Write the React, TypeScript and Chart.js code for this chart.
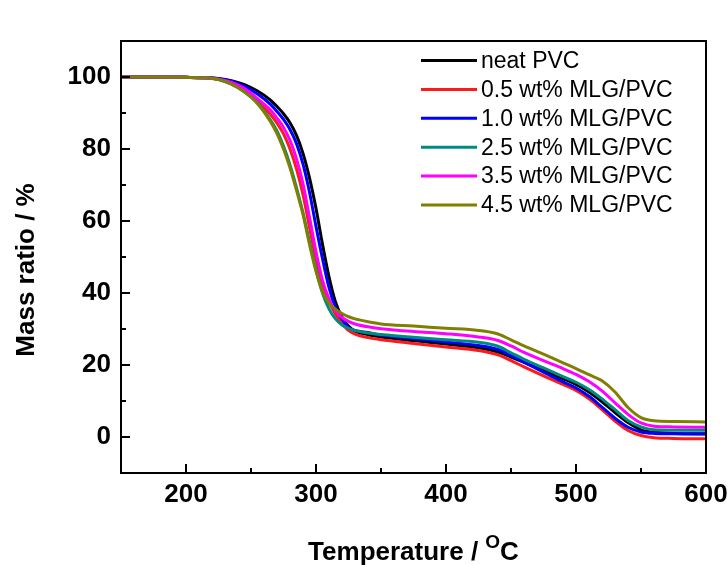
import { useEffect, useRef } from "react";
import { Chart, registerables } from "chart.js";

Chart.register(...registerables);

const temperatures = [150, 200, 215, 225, 235, 245, 255, 265, 270, 275, 280, 285, 290, 295, 300, 305, 310, 315, 320, 325, 330, 340, 350, 375, 400, 425, 440, 450, 460, 475, 490, 500, 510, 520, 530, 540, 550, 560, 575, 600];

const neatPVC = [100, 99.9, 99.8, 99.6, 99.0, 97.9, 96.1, 93.6, 91.8, 89.8, 87.3, 83.8, 78.8, 72.0, 63.5, 53.5, 44.5, 37.5, 33.3, 30.8, 29.4, 28.4, 27.8, 26.8, 25.8, 24.8, 23.6, 22.2, 20.7, 18.5, 16.2, 14.6, 12.5, 9.8, 6.8, 4.0, 2.0, 1.3, 1.0, 0.9];
const mlg05 = [100, 99.9, 99.8, 99.4, 98.3, 96.3, 93.3, 89.6, 87.2, 84.2, 80.0, 74.5, 67.3, 58.3, 49.5, 42.3, 37.6, 34.2, 31.6, 29.6, 28.6, 27.6, 27.0, 26.0, 25.0, 24.0, 22.8, 21.2, 19.5, 17.0, 14.6, 12.9, 10.6, 7.6, 4.4, 1.8, 0.4, -0.2, -0.4, -0.5];
const mlg10 = [100, 99.9, 99.8, 99.5, 98.8, 97.4, 95.3, 92.4, 90.4, 88.2, 85.4, 81.5, 75.8, 68.0, 58.5, 49.5, 41.5, 36.0, 32.8, 30.4, 29.6, 29.0, 28.3, 27.3, 26.4, 25.4, 24.3, 22.6, 20.8, 18.0, 15.3, 13.6, 11.3, 8.3, 5.2, 2.7, 1.4, 1.0, 0.9, 0.8];
const mlg25 = [100, 99.9, 99.8, 99.3, 98.0, 95.9, 92.8, 88.0, 85.0, 80.8, 75.6, 69.3, 62.3, 54.3, 46.5, 40.0, 35.6, 32.8, 31.1, 30.2, 29.6, 28.9, 28.5, 27.7, 27.0, 26.3, 25.2, 23.4, 21.6, 19.2, 16.8, 15.2, 13.2, 10.6, 7.6, 4.6, 2.8, 2.0, 1.9, 1.9];
const mlg35 = [100, 99.9, 99.8, 99.4, 98.5, 96.8, 94.0, 90.8, 88.6, 86.0, 82.4, 77.3, 70.3, 61.0, 51.5, 43.5, 38.4, 35.0, 33.2, 32.1, 31.4, 30.6, 30.1, 29.3, 28.7, 27.8, 26.8, 25.3, 23.5, 21.2, 19.0, 17.4, 15.4, 12.8, 9.5, 6.3, 3.9, 3.0, 2.8, 2.7];
const mlg45 = [100, 99.9, 99.8, 99.3, 98.0, 95.8, 92.6, 87.6, 84.3, 80.0, 74.8, 68.5, 61.8, 53.5, 46.0, 40.3, 37.2, 35.5, 34.3, 33.4, 32.8, 32.0, 31.4, 30.8, 30.2, 29.6, 28.6, 27.0, 25.3, 23.0, 20.6, 19.0, 17.3, 15.6, 12.5, 8.2, 5.4, 4.5, 4.3, 4.2];

const seriesLabels = ["neat PVC", "0.5 wt% MLG/PVC", "1.0 wt% MLG/PVC", "2.5 wt% MLG/PVC", "3.5 wt% MLG/PVC", "4.5 wt% MLG/PVC"];
const seriesValues = [neatPVC, mlg05, mlg10, mlg25, mlg35, mlg45];
const seriesColors = ["#000000", "#ff1a1a", "#0000ff", "#008b80", "#ff00ff", "#7f7f00"];

const xMajorTicks = [200, 300, 400, 500, 600];
const xMinorTicks = [250, 350, 450, 550];
const yMajorTicks = [0, 20, 40, 60, 80, 100];
const yMinorTicks = [10, 30, 50, 70, 90];

const FONT = "'Liberation Sans', Arial, Helvetica, sans-serif";

const framePlugin = {
  id: "frame",
  afterDraw(chart: any) {
    const { ctx, chartArea: a, scales } = chart;
    const xs = scales.x;
    const ys = scales.y;
    ctx.save();
    ctx.strokeStyle = "#000";
    ctx.lineWidth = 2;
    ctx.strokeRect(a.left, a.top, a.right - a.left, a.bottom - a.top);
    ctx.beginPath();
    xMajorTicks.forEach((v) => {
      const p = xs.getPixelForValue(v);
      ctx.moveTo(p, a.bottom);
      ctx.lineTo(p, a.bottom - 9);
    });
    xMinorTicks.forEach((v) => {
      const p = xs.getPixelForValue(v);
      ctx.moveTo(p, a.bottom);
      ctx.lineTo(p, a.bottom - 5);
    });
    yMajorTicks.forEach((v) => {
      const p = ys.getPixelForValue(v);
      ctx.moveTo(a.left, p);
      ctx.lineTo(a.left + 9, p);
    });
    yMinorTicks.forEach((v) => {
      const p = ys.getPixelForValue(v);
      ctx.moveTo(a.left, p);
      ctx.lineTo(a.left + 5, p);
    });
    ctx.stroke();

    // legend
    const lx = a.left + 300;
    const ly = a.top + 19.5;
    const step = 28.9;
    ctx.font = `23px ${FONT}`;
    ctx.textAlign = "left";
    ctx.textBaseline = "middle";
    seriesLabels.forEach((label, i) => {
      const yy = ly + i * step;
      ctx.strokeStyle = seriesColors[i];
      ctx.lineWidth = 3;
      ctx.beginPath();
      ctx.moveTo(lx, yy);
      ctx.lineTo(lx + 56, yy);
      ctx.stroke();
      ctx.fillStyle = "#000";
      ctx.fillText(label, lx + 60, yy + 1);
    });

    // y title
    ctx.save();
    ctx.translate(27, (a.top + a.bottom) / 2 + 13);
    ctx.rotate(-Math.PI / 2);
    ctx.font = `bold 26px ${FONT}`;
    ctx.textAlign = "center";
    ctx.textBaseline = "middle";
    ctx.fillStyle = "#000";
    ctx.fillText("Mass ratio / %", 0, 0);
    ctx.restore();

    // x title with superscript
    const main = "Temperature / ";
    const sup = "O";
    const tail = "C";
    ctx.fillStyle = "#000";
    ctx.textBaseline = "alphabetic";
    ctx.textAlign = "left";
    ctx.font = `bold 26px ${FONT}`;
    const wMain = ctx.measureText(main).width;
    const wTail = ctx.measureText(tail).width;
    ctx.font = `bold 19px ${FONT}`;
    const wSup = ctx.measureText(sup).width;
    const total = wMain + wSup + wTail;
    const cx = (a.left + a.right) / 2;
    let sx = cx - total / 2;
    const base = 560;
    ctx.font = `bold 26px ${FONT}`;
    ctx.fillText(main, sx, base);
    sx += wMain;
    ctx.font = `bold 19px ${FONT}`;
    ctx.fillText(sup, sx, base - 12);
    sx += wSup;
    ctx.font = `bold 26px ${FONT}`;
    ctx.fillText(tail, sx, base);
    ctx.restore();
  },
};

export default function App() {
  const canvasRef = useRef<HTMLCanvasElement | null>(null);

  useEffect(() => {
    if (!canvasRef.current) return;
    const datasets = seriesLabels.map((label, i) => ({
      label,
      data: temperatures.map((t, j) => ({ x: t, y: seriesValues[i][j] })),
      borderColor: seriesColors[i],
      backgroundColor: seriesColors[i],
      borderWidth: 3,
      pointRadius: 0,
      fill: false,
      cubicInterpolationMode: "monotone" as const,
      order: seriesLabels.length - i,
    }));
    const chart = new Chart(canvasRef.current, {
      type: "line",
      data: { datasets },
      options: {
        animation: false,
        responsive: true,
        maintainAspectRatio: false,
        layout: { padding: { top: 41, right: 22, left: 0, bottom: 0 } },
        plugins: {
          legend: { display: false },
          tooltip: { enabled: false },
        },
        scales: {
          x: {
            type: "linear",
            min: 150,
            max: 600,
            afterFit(s: any) {
              s.height = 92;
              s.paddingLeft = 0;
              s.paddingRight = 0;
            },
            afterBuildTicks(s: any) {
              s.ticks = xMajorTicks.map((v) => ({ value: v }));
            },
            grid: { display: false, drawTicks: false },
            border: { display: false },
            ticks: {
              padding: 6,
              autoSkip: false,
              maxRotation: 0,
              color: "#000",
              font: { family: FONT, size: 26, weight: "bold" },
            },
          },
          y: {
            type: "linear",
            min: -10,
            max: 110,
            afterFit(s: any) {
              s.width = 121;
              s.paddingTop = 0;
              s.paddingBottom = 0;
            },
            afterBuildTicks(s: any) {
              s.ticks = yMajorTicks.map((v) => ({ value: v }));
            },
            grid: { display: false, drawTicks: false },
            border: { display: false },
            ticks: {
              padding: 10,
              autoSkip: false,
              color: "#000",
              font: { family: FONT, size: 26, weight: "bold" },
            },
          },
        },
      },
      plugins: [framePlugin],
    });
    return () => chart.destroy();
  }, []);

  return (
    <div style={{ position: "absolute", left: 0, top: 0, width: 728, height: 565, background: "#fff" }}>
      <canvas ref={canvasRef} />
    </div>
  );
}
